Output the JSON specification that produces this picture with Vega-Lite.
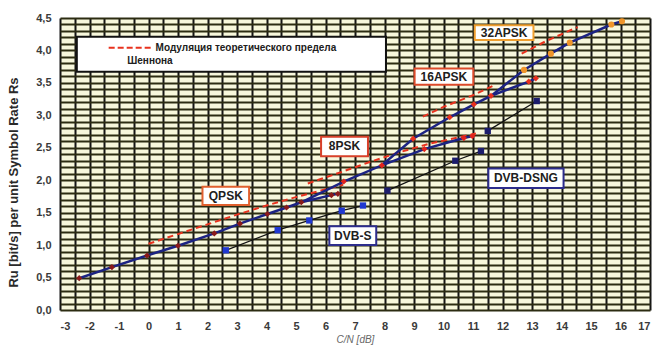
{
  "$schema": "https://vega.github.io/schema/vega-lite/v6.json",
  "width": 590,
  "height": 292,
  "autosize": "none",
  "padding": {"left": 60, "top": 18, "right": 4, "bottom": 39},
  "background": "white",
  "config": {
    "view": {"fill": "#f7f7dc", "stroke": null},
    "font": "Liberation Sans"
  },
  "datasets": {
    "s2": [
      {"mod": "QPSK", "cn": -2.35, "ru": 0.49},
      {"mod": "QPSK", "cn": -1.24, "ru": 0.66},
      {"mod": "QPSK", "cn": -0.05, "ru": 0.84},
      {"mod": "QPSK", "cn": 1.0, "ru": 0.99},
      {"mod": "QPSK", "cn": 2.23, "ru": 1.18},
      {"mod": "QPSK", "cn": 3.1, "ru": 1.33},
      {"mod": "QPSK", "cn": 4.03, "ru": 1.48},
      {"mod": "QPSK", "cn": 4.68, "ru": 1.58},
      {"mod": "QPSK", "cn": 5.18, "ru": 1.66},
      {"mod": "QPSK", "cn": 6.2, "ru": 1.77},
      {"mod": "QPSK", "cn": 6.42, "ru": 1.79},
      {"mod": "8PSK", "cn": 6.62, "ru": 1.98},
      {"mod": "8PSK", "cn": 7.91, "ru": 2.23},
      {"mod": "8PSK", "cn": 9.35, "ru": 2.48},
      {"mod": "8PSK", "cn": 10.69, "ru": 2.65},
      {"mod": "8PSK", "cn": 10.98, "ru": 2.68},
      {"mod": "16APSK", "cn": 8.97, "ru": 2.64},
      {"mod": "16APSK", "cn": 10.21, "ru": 2.97},
      {"mod": "16APSK", "cn": 11.03, "ru": 3.17},
      {"mod": "16APSK", "cn": 11.61, "ru": 3.3},
      {"mod": "16APSK", "cn": 12.89, "ru": 3.52},
      {"mod": "16APSK", "cn": 13.13, "ru": 3.57},
      {"mod": "32APSK", "cn": 12.73, "ru": 3.7},
      {"mod": "32APSK", "cn": 13.64, "ru": 3.95},
      {"mod": "32APSK", "cn": 14.28, "ru": 4.12},
      {"mod": "32APSK", "cn": 15.69, "ru": 4.4},
      {"mod": "32APSK", "cn": 16.05, "ru": 4.45}
    ],
    "s2lines": [
      {"line": "main", "cn": -2.35, "ru": 0.49},
      {"line": "main", "cn": -1.24, "ru": 0.66},
      {"line": "main", "cn": -0.05, "ru": 0.84},
      {"line": "main", "cn": 1.0, "ru": 0.99},
      {"line": "main", "cn": 2.23, "ru": 1.18},
      {"line": "main", "cn": 3.1, "ru": 1.33},
      {"line": "main", "cn": 4.03, "ru": 1.48},
      {"line": "main", "cn": 4.68, "ru": 1.58},
      {"line": "main", "cn": 5.18, "ru": 1.66},
      {"line": "main", "cn": 6.62, "ru": 1.98},
      {"line": "main", "cn": 7.91, "ru": 2.23},
      {"line": "main", "cn": 8.97, "ru": 2.64},
      {"line": "main", "cn": 10.21, "ru": 2.97},
      {"line": "main", "cn": 11.03, "ru": 3.17},
      {"line": "main", "cn": 11.61, "ru": 3.3},
      {"line": "main", "cn": 12.73, "ru": 3.7},
      {"line": "main", "cn": 13.64, "ru": 3.95},
      {"line": "main", "cn": 14.28, "ru": 4.12},
      {"line": "main", "cn": 15.69, "ru": 4.4},
      {"line": "main", "cn": 16.05, "ru": 4.45},
      {"line": "qpsk", "cn": 5.18, "ru": 1.66},
      {"line": "qpsk", "cn": 6.2, "ru": 1.77},
      {"line": "qpsk", "cn": 6.42, "ru": 1.79},
      {"line": "8psk", "cn": 7.91, "ru": 2.23},
      {"line": "8psk", "cn": 9.35, "ru": 2.48},
      {"line": "8psk", "cn": 10.69, "ru": 2.65},
      {"line": "8psk", "cn": 10.98, "ru": 2.68},
      {"line": "16apsk", "cn": 11.61, "ru": 3.3},
      {"line": "16apsk", "cn": 12.89, "ru": 3.52},
      {"line": "16apsk", "cn": 13.13, "ru": 3.57}
    ],
    "shannon": [
      {"mod": "QPSK", "cn": 0, "ru": 1.02},
      {"mod": "QPSK", "cn": 1, "ru": 1.17},
      {"mod": "QPSK", "cn": 2, "ru": 1.32},
      {"mod": "QPSK", "cn": 3, "ru": 1.47},
      {"mod": "QPSK", "cn": 4, "ru": 1.61},
      {"mod": "QPSK", "cn": 5, "ru": 1.74},
      {"mod": "QPSK", "cn": 6, "ru": 1.86},
      {"mod": "QPSK", "cn": 6.6, "ru": 1.93},
      {"mod": "8PSK", "cn": 5.4, "ru": 1.95},
      {"mod": "8PSK", "cn": 6.5, "ru": 2.12},
      {"mod": "8PSK", "cn": 7.5, "ru": 2.28},
      {"mod": "8PSK", "cn": 8.5, "ru": 2.43},
      {"mod": "8PSK", "cn": 9.5, "ru": 2.56},
      {"mod": "8PSK", "cn": 10.5, "ru": 2.66},
      {"mod": "8PSK", "cn": 11.1, "ru": 2.72},
      {"mod": "16APSK", "cn": 9.3, "ru": 2.98},
      {"mod": "16APSK", "cn": 10, "ru": 3.13},
      {"mod": "16APSK", "cn": 11, "ru": 3.31},
      {"mod": "16APSK", "cn": 11.7, "ru": 3.46},
      {"mod": "32APSK", "cn": 12.65, "ru": 3.95},
      {"mod": "32APSK", "cn": 13.5, "ru": 4.15},
      {"mod": "32APSK", "cn": 14.55, "ru": 4.36}
    ],
    "legacy": [
      {"sys": "DVB-S", "seg": "S", "cn": 2.62, "ru": 0.92},
      {"sys": "DVB-S", "seg": "S", "cn": 4.38, "ru": 1.23},
      {"sys": "DVB-S", "seg": "S", "cn": 5.45, "ru": 1.38},
      {"sys": "DVB-S", "seg": "S", "cn": 6.55, "ru": 1.53},
      {"sys": "DVB-S", "seg": "S", "cn": 7.27, "ru": 1.61},
      {"sys": "DVB-DSNG", "seg": "D1", "cn": 8.1, "ru": 1.84},
      {"sys": "DVB-DSNG", "seg": "D1", "cn": 10.4, "ru": 2.3},
      {"sys": "DVB-DSNG", "seg": "D1", "cn": 11.27, "ru": 2.45},
      {"sys": "DVB-DSNG", "seg": "D2", "cn": 11.5, "ru": 2.76},
      {"sys": "DVB-DSNG", "seg": "D2", "cn": 13.16, "ru": 3.22}
    ],
    "boxes": [
      {"label": "QPSK", "cn": 1.83, "cn2": 3.41, "ru": 1.62, "ru2": 1.9, "cx": 2.62, "cy": 1.76},
      {"label": "8PSK", "cn": 5.85, "cn2": 7.44, "ru": 2.37, "ru2": 2.67, "cx": 6.645, "cy": 2.52},
      {"label": "16APSK", "cn": 9.02, "cn2": 11.01, "ru": 3.47, "ru2": 3.72, "cx": 10.015, "cy": 3.595},
      {"label": "32APSK", "cn": 11.06, "cn2": 13.05, "ru": 4.16, "ru2": 4.39, "cx": 12.055, "cy": 4.275},
      {"label": "DVB-S", "cn": 6.13, "cn2": 7.72, "ru": 1.0, "ru2": 1.29, "cx": 6.925, "cy": 1.145},
      {"label": "DVB-DSNG", "cn": 11.52, "cn2": 14.07, "ru": 1.88, "ru2": 2.18, "cx": 12.795, "cy": 2.03}
    ],
    "legendbox": [
      {"cn": -2.43, "cn2": 8.05, "ru": 3.67, "ru2": 4.21}
    ],
    "legendline": [
      {"cn": -1.35, "cn2": 0.13, "ru": 4.04}
    ],
    "legendtext": [
      {"text": "Модуляция теоретического предела", "cn": 0.24, "ru": 4.04},
      {"text": "Шеннона", "cn": -0.72, "ru": 3.83}
    ]
  },
  "layer": [
    {
      "data": {"name": "boxes"},
      "mark": {"type": "rect", "fill": "white", "strokeWidth": 2},
      "encoding": {
        "x": {
          "field": "cn", "type": "quantitative", "title": "C/N [dB]",
          "scale": {"domain": [-3, 17], "nice": false, "zero": false},
          "axis": {
            "values": [-3,-2.5,-2,-1.5,-1,-0.5,0,0.5,1,1.5,2,2.5,3,3.5,4,4.5,5,5.5,6,6.5,7,7.5,8,8.5,9,9.5,10,10.5,11,11.5,12,12.5,13,13.5,14,14.5,15,15.5,16,16.5,17],
            "tickCount": 200,
            "labelExpr": "datum.value % 1 == 0 ? '' + datum.value : ''",
            "grid": true, "gridColor": "#141414", "gridWidth": 2, "gridOpacity": 1,
            "domain": false, "ticks": false,
            "labelFont": "Liberation Sans", "labelFontWeight": "bold", "labelFontSize": 11,
            "labelColor": "#3a3a3a", "labelPadding": 10, "labelOverlap": false,
            "titleFont": "Liberation Sans", "titleFontSize": 10, "titleFontWeight": "normal",
            "titleFontStyle": "italic", "titleColor": "#666666", "titlePadding": 3
          }
        },
        "x2": {"field": "cn2"},
        "y": {
          "field": "ru", "type": "quantitative", "title": "Ru [bit/s] per unit Symbol Rate Rs",
          "scale": {"domain": [0, 4.5], "nice": false, "zero": false},
          "axis": {
            "values": [0,0.1,0.2,0.3,0.4,0.5,0.6,0.7,0.8,0.9,1,1.1,1.2,1.3,1.4,1.5,1.6,1.7,1.8,1.9,2,2.1,2.2,2.3,2.4,2.5,2.6,2.7,2.8,2.9,3,3.1,3.2,3.3,3.4,3.5,3.6,3.7,3.8,3.9,4,4.1,4.2,4.3,4.4,4.5],
            "tickCount": 200,
            "labelExpr": "abs(datum.value * 2 - round(datum.value * 2)) < 0.001 ? replace(format(datum.value, '.1f'), '.', ',') : ''",
            "grid": true, "gridColor": "#2c2c12", "gridWidth": 2, "gridOpacity": 1,
            "domain": false, "ticks": false,
            "labelFont": "Liberation Sans", "labelFontWeight": "bold", "labelFontSize": 11,
            "labelColor": "#3a3a3a", "labelPadding": 9, "labelOverlap": false,
            "titleFont": "Liberation Sans", "titleFontSize": 13, "titleFontWeight": "bold",
            "titleColor": "#2a2a2a", "titleX": -40, "titleY": 164
          }
        },
        "y2": {"field": "ru2"},
        "stroke": {
          "field": "label", "type": "nominal", "legend": null,
          "scale": {"domain": ["QPSK", "8PSK", "16APSK", "32APSK", "DVB-S", "DVB-DSNG"],
                    "range": ["#e0602e", "#d8402a", "#dc4a2a", "#f0a030", "#2c2c8c", "#2c2c8c"]}
        }
      }
    },
    {
      "data": {"name": "boxes"},
      "mark": {"type": "text", "font": "Liberation Sans", "fontWeight": "bold", "fontSize": 12, "color": "#202020", "align": "center", "baseline": "middle"},
      "encoding": {
        "x": {"field": "cx", "type": "quantitative", "title": "C/N [dB]"},
        "y": {"field": "cy", "type": "quantitative", "title": "Ru [bit/s] per unit Symbol Rate Rs"},
        "text": {"field": "label"}
      }
    },
    {
      "data": {"name": "legendbox"},
      "mark": {"type": "rect", "fill": "white", "stroke": "#111111", "strokeWidth": 2},
      "encoding": {
        "x": {"field": "cn", "type": "quantitative", "title": "C/N [dB]"},
        "x2": {"field": "cn2"},
        "y": {"field": "ru", "type": "quantitative", "title": "Ru [bit/s] per unit Symbol Rate Rs"},
        "y2": {"field": "ru2"}
      }
    },
    {
      "data": {"name": "legendline"},
      "mark": {"type": "rule", "color": "#e8321e", "strokeWidth": 2, "strokeDash": [6, 3]},
      "encoding": {
        "x": {"field": "cn", "type": "quantitative", "title": "C/N [dB]"},
        "x2": {"field": "cn2"},
        "y": {"field": "ru", "type": "quantitative", "title": "Ru [bit/s] per unit Symbol Rate Rs"}
      }
    },
    {
      "data": {"name": "legendtext"},
      "mark": {"type": "text", "font": "Liberation Sans", "fontWeight": "bold", "fontSize": 10, "color": "#202020", "align": "left", "baseline": "middle"},
      "encoding": {
        "x": {"field": "cn", "type": "quantitative", "title": "C/N [dB]"},
        "y": {"field": "ru", "type": "quantitative", "title": "Ru [bit/s] per unit Symbol Rate Rs"},
        "text": {"field": "text"}
      }
    },
    {
      "data": {"name": "legacy"},
      "mark": {"type": "line", "color": "#111111", "strokeWidth": 1.3},
      "encoding": {
        "x": {"field": "cn", "type": "quantitative", "title": "C/N [dB]"},
        "y": {"field": "ru", "type": "quantitative", "title": "Ru [bit/s] per unit Symbol Rate Rs"},
        "detail": {"field": "seg"}
      }
    },
    {
      "data": {"name": "shannon"},
      "mark": {"type": "line", "color": "#e8321e", "strokeWidth": 2, "strokeDash": [6, 4]},
      "encoding": {
        "x": {"field": "cn", "type": "quantitative", "title": "C/N [dB]"},
        "y": {"field": "ru", "type": "quantitative", "title": "Ru [bit/s] per unit Symbol Rate Rs"},
        "detail": {"field": "mod"}
      }
    },
    {
      "data": {"name": "s2lines"},
      "mark": {"type": "line", "color": "#1c2383", "strokeWidth": 2.5},
      "encoding": {
        "x": {"field": "cn", "type": "quantitative", "title": "C/N [dB]"},
        "y": {"field": "ru", "type": "quantitative", "title": "Ru [bit/s] per unit Symbol Rate Rs"},
        "detail": {"field": "line"}
      }
    },
    {
      "data": {"name": "legacy"},
      "mark": {"type": "point", "shape": "square", "filled": true, "size": 40, "opacity": 1},
      "encoding": {
        "x": {"field": "cn", "type": "quantitative", "title": "C/N [dB]"},
        "y": {"field": "ru", "type": "quantitative", "title": "Ru [bit/s] per unit Symbol Rate Rs"},
        "color": {"field": "sys", "type": "nominal", "legend": null,
                  "scale": {"domain": ["DVB-S", "DVB-DSNG"], "range": ["#2038d0", "#1c1c6c"]}}
      }
    },
    {
      "data": {"name": "s2"},
      "mark": {"type": "point", "filled": true, "size": 38, "opacity": 1},
      "encoding": {
        "x": {"field": "cn", "type": "quantitative", "title": "C/N [dB]"},
        "y": {"field": "ru", "type": "quantitative", "title": "Ru [bit/s] per unit Symbol Rate Rs"},
        "fill": {"field": "mod", "type": "nominal", "legend": null,
                 "scale": {"domain": ["QPSK", "8PSK", "16APSK", "32APSK"], "range": ["#8a1a1a", "#e2231c", "#e8301e", "#f0952a"]}},
        "shape": {"field": "mod", "type": "nominal", "legend": null,
                  "scale": {"domain": ["QPSK", "8PSK", "16APSK", "32APSK"], "range": ["diamond", "diamond", "diamond", "circle"]}}
      }
    }
  ]
}
